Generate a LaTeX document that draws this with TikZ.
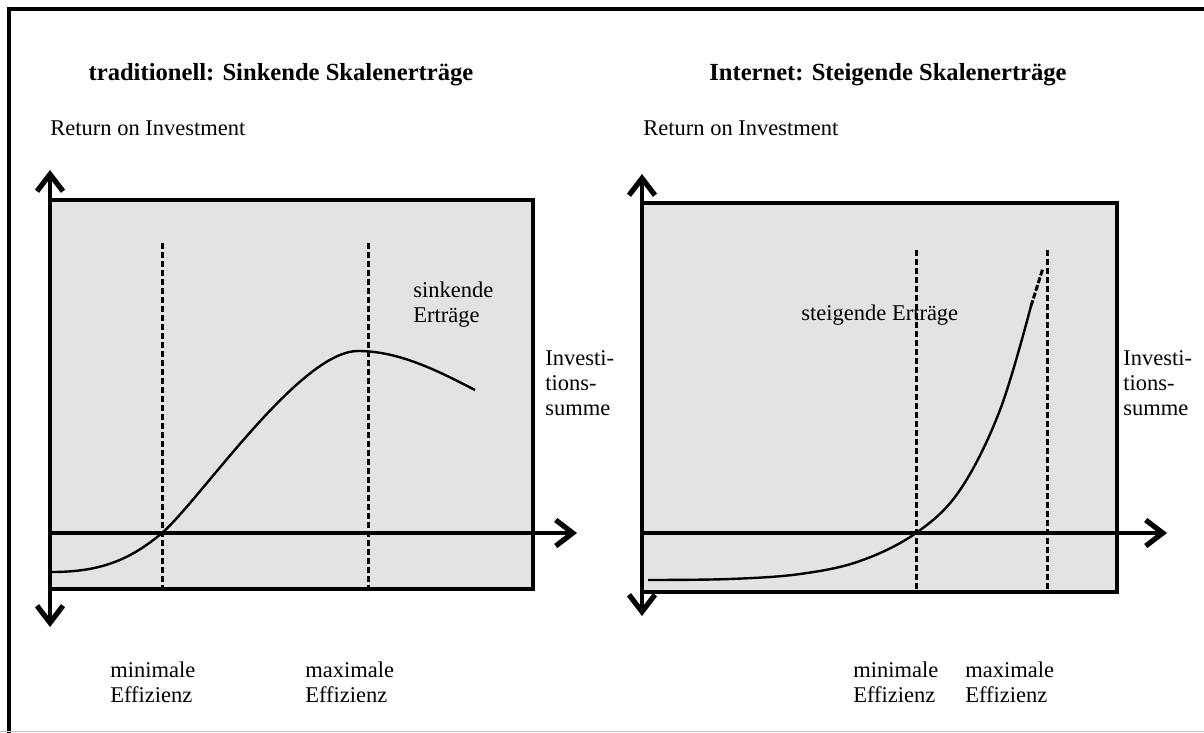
\documentclass[tikz,border=0pt]{standalone}
\usepackage{fontspec}
\setmainfont{Liberation Serif}
\usetikzlibrary{arrows.meta}

\begin{document}
\begin{tikzpicture}[x = 0.5pt, y = -0.5pt,
		panel/.style = {fill = black!11, draw = black, line width = 2pt},
		axis/.style = {line width = 2.2pt, -{Straight Barb[length = 8.5pt, width = 13pt, line width = 2.6pt]}},
		limit/.style = {line width = 1.5pt, dash pattern = on 3pt off 1.5pt},
		curve/.style = {line width = 1.2pt},
		title/.style = {font = \bfseries\fontsize{12.3}{14}\selectfont, inner sep = 0pt},
		lbl/.style = {font = \fontsize{11.25}{12.5}\selectfont, inner sep = 0pt, align = left, anchor = west}]

	\useasboundingbox (0,0) rectangle (1204,733);

	% frame
	\draw [line width = 2.2pt] (9,733) -- (9,9) -- (1204,9);
	\draw [black!25, line width = 0.5pt] (0,731.5) -- (1204,731.5);

	% left: traditionell
	\begin{scope}
		\coordinate (lo) at (50,533);
		\coordinate (ltop) at (50,170);
		\coordinate (lbot) at (50,627);
		\coordinate (lend) at (577,533);
		\filldraw [panel] (50,200) rectangle (533,589);
		\draw [limit] (162,243) -- (162,589);
		\draw [limit] (368,243) -- (368,589);
		\draw [axis] (lo) -- (lend);
		\draw [axis] (lo) -- (ltop);
		\draw [axis] (lo) -- (lbot);
		\draw [curve] (52,572) .. controls (100,572) and (130,560) .. (162,533)
			.. controls (200,500) and (300,351) .. (358,351)
			.. controls (400,351) and (440,372) .. (475,390);
	\end{scope}

	% right: Internet
	\begin{scope}
		\coordinate (ro) at (642,533);
		\coordinate (rtop) at (642,174);
		\coordinate (rbot) at (642,616);
		\coordinate (rend) at (1167,533);
		\filldraw [panel] (642,203) rectangle (1117,592);
		\draw [limit] (916,250) -- (916,592);
		\draw [limit] (1047,250) -- (1047,592);
		\draw [axis] (ro) -- (rend);
		\draw [axis] (ro) -- (rtop);
		\draw [axis] (ro) -- (rbot);
		\draw [curve] plot [smooth, tension = 0.6] coordinates {(648,580) (730,579) (800,574) (860,561) (916,533) (960,490) (1000,410) (1031,306)};
		\draw [curve, line width = 1.5pt, dash pattern = on 3pt off 1pt] (1031,306) -- (1043,268);
	\end{scope}

	% texts
	\node [title] (tleft) at (281,75) {traditionell: Sinkende Skalenerträge};
	\node [title] (tright) at (888,75) {Internet: Steigende Skalenerträge};
	\node [lbl] (roileft) at (50,128) {Return on Investment};
	\node [lbl] (roiright) at (643,128) {Return on Investment};
	\node [lbl] (sink) at (413,305) {sinkende\\Erträge};
	\node [lbl] (steig) at (801,315) {steigende Erträge};
	\node [lbl] (sumleft) at (545,383) {Investi-\\tions-\\summe};
	\node [lbl] (sumright) at (1123,383) {Investi-\\tions-\\summe};
	\node [lbl] (minleft) at (110,682) {minimale\\Effizienz};
	\node [lbl] (maxleft) at (305,682) {maximale\\Effizienz};
	\node [lbl] (minright) at (853,682) {minimale\\Effizienz};
	\node [lbl] (maxright) at (965,682) {maximale\\Effizienz};
\end{tikzpicture}
\end{document}
